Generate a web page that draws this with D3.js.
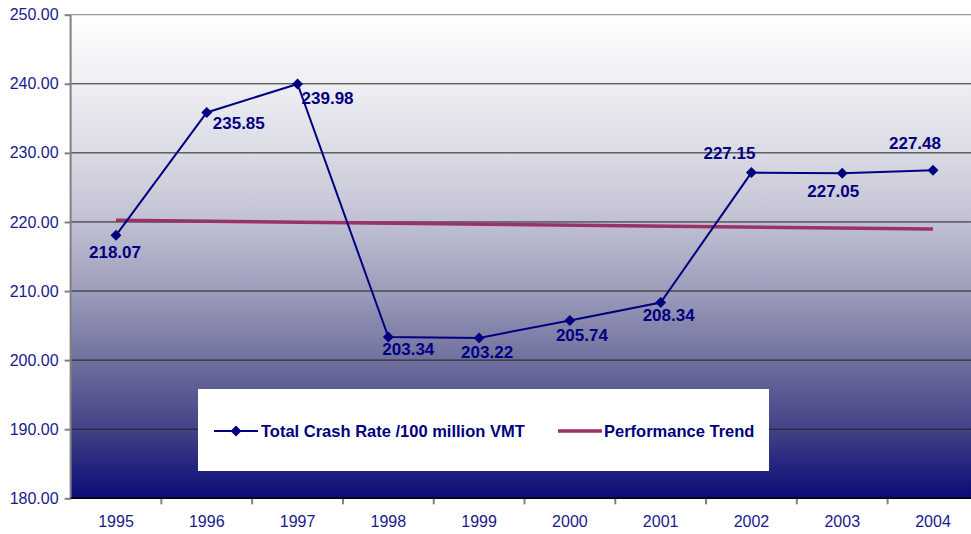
<!DOCTYPE html>
<html><head><meta charset="utf-8">
<script src="https://cdn.jsdelivr.net/npm/d3@7"></script>
<style>
html,body{margin:0;padding:0;background:#fff;}
svg{display:block;font-family:"Liberation Sans",Arial,sans-serif;}
</style></head>
<body><svg id="c" width="971" height="534"></svg>
<script>
const years = ["1995","1996","1997","1998","1999","2000","2001","2002","2003","2004"];
const crashRate = [218.07,235.85,239.98,203.34,203.22,205.74,208.34,227.15,227.05,227.48];
const trendYears = ["1995","2004"];
const trendValues = [220.26,218.98];
const yTicks = [180,190,200,210,220,230,240,250];
const seriesNames = ["Total Crash Rate /100 million VMT","Performance Trend"];
// label offsets (layout only): [dx, dy] from point to label baseline center
const labelOffsets = [[-1,23],[32,17],[30,20],[20,18],[8,20],[12,21],[8,18],[-22,-14],[-9,24],[-18,-21]];

const svg = d3.select("#c");
const L = 70.6, T = 14.7, B = 498.3, R = 70.6 + 90.78*10;
const x = d3.scaleBand().domain(years).range([L,R]).padding(0);
const xc = d => x(d) + x.bandwidth()/2;
const y = d3.scaleLinear().domain([180,250]).range([B,T]);

const defs = svg.append("defs");
const g = defs.append("linearGradient").attr("id","bg").attr("x1",0).attr("y1",0).attr("x2",0).attr("y2",1);
[[0,"#ffffff"],[0.14,"#efeff4"],[0.29,"#dadae4"],[0.43,"#c0c0d3"],[0.57,"#9d9dbb"],[0.71,"#71719f"],[0.86,"#414186"],[1,"#0a0a78"]]
  .forEach(s=>g.append("stop").attr("offset",s[0]).attr("stop-color",s[1]));

svg.append("rect").attr("x",L).attr("y",T).attr("width",R-L).attr("height",B-T).attr("fill","url(#bg)");

// gridlines
svg.append("g").selectAll("line").data(yTicks.filter(t=>t>180)).join("line")
  .attr("x1",L).attr("x2",R).attr("y1",d=>y(d)).attr("y2",d=>y(d))
  .attr("stroke",d=>d===250?"#808080":"#222").attr("stroke-width",1);

// y axis
const ya = svg.append("g").attr("transform",`translate(${L},0)`)
  .call(d3.axisLeft(y).tickValues(yTicks).tickSize(6).tickPadding(6).tickFormat(d3.format(".2f")));
ya.select(".domain").remove();
ya.selectAll(".tick line").attr("stroke","#808080").attr("stroke-width",2);
ya.selectAll(".tick text").attr("fill","#1a1a8c").style("font-size","16px").style("font-family","Liberation Sans, Arial, sans-serif");
svg.append("line").attr("x1",L).attr("x2",L).attr("y1",T).attr("y2",B+1).attr("stroke","#808080").attr("stroke-width",2);

// x axis
const xa = svg.append("g").attr("transform",`translate(0,${B})`)
  .call(d3.axisBottom(x).tickSize(0).tickPadding(17));
xa.select(".domain").remove();
xa.selectAll(".tick text").attr("fill","#1a1a8c").style("font-size","16px").style("font-family","Liberation Sans, Arial, sans-serif");
svg.append("g").selectAll("line").data(years.slice(1)).join("line")
  .attr("x1",d=>x(d)).attr("x2",d=>x(d)).attr("y1",B).attr("y2",B+6)
  .attr("stroke","#808080").attr("stroke-width",2);
svg.append("line").attr("x1",L).attr("x2",R).attr("y1",B).attr("y2",B).attr("stroke","#000").attr("stroke-width",1.5);

// legend box
const lg = svg.append("g");
lg.append("rect").attr("x",198).attr("y",389).attr("width",571).attr("height",82).attr("fill","#fff");

// trend line
svg.append("path").datum(trendValues.map((v,i)=>[trendYears[i],v]))
  .attr("d",d3.line().x(d=>xc(d[0])).y(d=>y(d[1])))
  .attr("fill","none").attr("stroke","#993366").attr("stroke-width",3.5);

// data line
const data = years.map((yr,i)=>({yr,v:crashRate[i],off:labelOffsets[i]}));
svg.append("path").datum(data)
  .attr("d",d3.line().x(d=>xc(d.yr)).y(d=>y(d.v)))
  .attr("fill","none").attr("stroke","#000080").attr("stroke-width",2);
const diamond = d3.symbol().type(d3.symbolDiamond2 || d3.symbolSquare).size(72);
svg.append("g").selectAll("path").data(data).join("path")
  .attr("transform",d=>`translate(${xc(d.yr)},${y(d.v)}) rotate(45)`)
  .attr("d",d3.symbol().type(d3.symbolSquare).size(60)())
  .attr("fill","#000080");

svg.append("g").selectAll("text").data(data).join("text")
  .attr("x",d=>xc(d.yr)+d.off[0]).attr("y",d=>y(d.v)+d.off[1])
  .attr("text-anchor","middle").attr("fill","#000080")
  .style("font-size","17px").style("font-weight","bold")
  .text(d=>d.v.toFixed(2));

// legend entries
const ly = 431;
lg.append("line").attr("x1",214).attr("x2",258).attr("y1",ly).attr("y2",ly).attr("stroke","#000080").attr("stroke-width",2);
lg.append("path").attr("transform",`translate(236,${ly}) rotate(45)`).attr("d",d3.symbol().type(d3.symbolSquare).size(60)()).attr("fill","#000080");
lg.append("text").attr("x",261).attr("y",ly+6).attr("fill","#000080").style("font-size","16.5px").style("font-weight","bold").text(seriesNames[0]);
lg.append("line").attr("x1",558).attr("x2",602).attr("y1",ly).attr("y2",ly).attr("stroke","#993366").attr("stroke-width",3.5);
lg.append("text").attr("x",604).attr("y",ly+6).attr("fill","#000080").style("font-size","16.5px").style("font-weight","bold").text(seriesNames[1]);
</script></body></html>
